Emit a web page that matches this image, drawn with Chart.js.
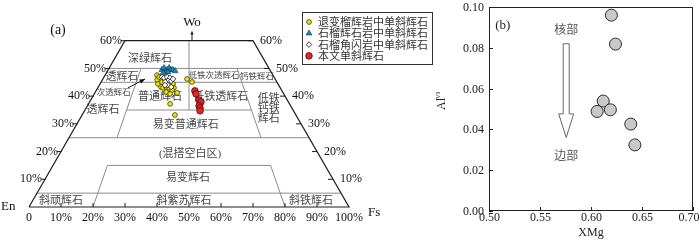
<!DOCTYPE html>
<html>
<head>
<meta charset="utf-8">
<script src="https://cdn.jsdelivr.net/npm/chart.js@4.4.1/dist/chart.umd.min.js"></script>
<style>
  body { margin: 0; background: #fff; width: 700px; height: 248px; position: relative; overflow: hidden; }
  #quadChart { position: absolute; left: 0; top: 0; }
  #xmgChart { position: absolute; left: 430px; top: 0; }
</style>
</head>
<body>
<canvas id="quadChart" width="440" height="248"></canvas>
<canvas id="xmgChart" width="270" height="248"></canvas>
<script>
// (a) pyroxene points, each [Fs, Wo] in % (En = 100 - Fs - Wo)
var retroEclogite = [[16.2,47.6],[17.1,45.9],[18.1,44.4],[19.6,43.3],[19.0,45.1],[19.4,46.2],[20.7,44.8],
    [21.2,45.1],[22.2,44.4],[20.4,43.0],[21.2,43.3],[22.3,43.0],[22.8,44.4],[23.8,43.0],[23.6,42.2],
    [22.1,41.5],[23.7,40.8],[25.7,41.2],[25.5,37.2],[29.0,33.2],[26.3,46.2],[28.4,45.1],[17.2,46.9]];
var garnetPyroxenite = [[16.8,49.5],[17.1,50.2],[18.4,49.5],[18.7,50.2],[19.6,49.5],[20.2,49.5],
    [21.1,49.1],[18.5,48.7],[19.1,48.7],[17.7,48.4]];
var garnetAmphibolite = [[18.1,46.9],[18.9,46.6],[19.7,46.9],[20.8,46.6],[20.7,45.5],[20.0,45.1],
    [21.7,45.5],[21.4,44.0],[22.8,43.3],[21.9,46.2],[20.5,44.0]];
var thisStudy = [[30.9,41.9],[31.8,40.8],[33.8,38.6],[34.8,37.9],[34.9,36.5],[35.6,35.7],[36.1,34.7]];

var seriesNames = ["退变榴辉岩中单斜辉石", "石榴辉石岩中单斜辉石", "石榴角闪岩中单斜辉石", "本文单斜辉石"];

// quadrilateral outline and field boundaries, [Fs, Wo]
var frameLine = [[0,0],[100,0],[40,60],[0,60],[0,0]];
var fieldLines = [
    [[0,5],[95,5]],
    [[20,0],[17,15],[68,15],[80,0]],
    [[0,25],[75,25]],
    [[13,35],[52,35]],
    [[0,45],[55,45]],
    [[0,50],[50,50]],
    [[15,25],[10,50]],
    [[60,25],[40,50]],
    [[32.5,35],[20,60]]
];
var fieldNames = ["深绿辉石","透辉石","次透辉石","透辉石","普通辉石","低铁次透辉石","钙铁辉石",
    "低铁透辉石","易变普通辉石","(混搭空白区)","易变辉石","斜顽辉石","斜紫苏辉石","斜铁辉石"];
var fieldAt = [[11.1,53.4],[5.6,46.9],[5.9,41.2],[5.6,35],[21.1,39.7],[34.2,47.3],[47.8,46.9],
    [40.1,39.7],[34.2,29.6],[40.8,19.1],[44.4,10.5],[8.9,2.2],[47.3,2.2],[87,2.2]];
var smallNames = ["次透辉石","低铁次透辉石","钙铁辉石"];
var stackedName = ["低铁","钙铁","辉石"];
var stackedAt = [57.1,35.7];
var woTicks = [10,20,30,40,50,60];
var fsTicks = [0,10,20,30,40,50,60,70,80,90,100];
var arrowFrom = [9.4,43.0];
var arrowTo = [13.2,46.2];

// (b) XMg vs Al(VI)
var xmg = [0.620, 0.624, 0.612, 0.606, 0.619, 0.639, 0.643];
var alVI = [0.096, 0.0818, 0.0539, 0.0488, 0.0496, 0.0426, 0.0324];
var xmgTicks = [0.50, 0.55, 0.60, 0.65, 0.70];
var alTicks = [0, 0.02, 0.04, 0.06, 0.08, 0.10];

var serif = '"Liberation Serif", "Noto Sans CJK SC"';
var cjk = '"Noto Sans CJK SC"';

function tern(p) {
    return { x: p[0] + p[1] / 2, y: p[1] * Math.sqrt(3) / 2 };
}

function arrowHead(ctx, x1, y1, x2, y2, size) {
    var a = Math.atan2(y2 - y1, x2 - x1);
    ctx.beginPath();
    ctx.moveTo(x2, y2);
    ctx.lineTo(x2 - size * Math.cos(a - 0.4), y2 - size * Math.sin(a - 0.4));
    ctx.lineTo(x2 - size * Math.cos(a + 0.4), y2 - size * Math.sin(a + 0.4));
    ctx.closePath();
    ctx.fill();
}

var pointSets = [
    { label: seriesNames[0], data: retroEclogite, style: "circle", r: 2.4, bg: "#f3e300", bd: "#3a3a10", w: 0.8, order: 3 },
    { label: seriesNames[1], data: garnetPyroxenite, style: "triangle", r: 3.4, bg: "#1d86b6", bd: "#0c3550", w: 0.6, order: 1 },
    { label: seriesNames[2], data: garnetAmphibolite, style: "rectRot", r: 2.8, bg: "#ffffff", bd: "#222222", w: 0.9, order: 2 },
    { label: seriesNames[3], data: thisStudy, style: "circle", r: 3.3, bg: "#e2262a", bd: "#4a0c0c", w: 0.8, order: 0 }
];

var quadDatasets = pointSets.map(function (s) {
    return {
        label: s.label,
        data: s.data.map(tern),
        pointStyle: s.style,
        pointRadius: s.r,
        backgroundColor: s.bg,
        borderColor: s.bd,
        borderWidth: s.w,
        order: s.order,
        clip: false
    };
});
quadDatasets.push({
    label: "frame",
    data: frameLine.map(tern),
    showLine: true, pointRadius: 0, borderColor: "#1e1e1e", borderWidth: 1.2,
    order: 10, clip: false
});
fieldLines.forEach(function (ln) {
    quadDatasets.push({
        label: "field",
        data: ln.map(tern),
        showLine: true, pointRadius: 0, borderColor: "#8c8c8c", borderWidth: 1,
        order: 11, clip: false
    });
});

const quadText = {
    id: "quadText",
    beforeDatasetsDraw(chart) {
        const ctx = chart.ctx;
        const sx = chart.scales.x, sy = chart.scales.y;
        function px(p) { var q = tern(p); return { x: sx.getPixelForValue(q.x), y: sy.getPixelForValue(q.y) }; }
        ctx.save();
        ctx.fillStyle = "#474747";
        ctx.textAlign = "center";
        ctx.textBaseline = "middle";
        fieldNames.forEach(function (name, i) {
            var small = smallNames.indexOf(name) >= 0;
            ctx.font = (small ? "8.5px " : "11px ") + serif;
            var p = px(fieldAt[i]);
            ctx.fillText(name, p.x, p.y);
        });
        ctx.font = "11px " + cjk;
        var c = px(stackedAt);
        stackedName.forEach(function (t, i) {
            ctx.fillText(t, c.x, c.y + (i - 1) * 10);
        });
        ctx.restore();
    },
    afterDraw(chart) {
        const ctx = chart.ctx;
        const sx = chart.scales.x, sy = chart.scales.y;
        function px(p) { var q = tern(p); return { x: sx.getPixelForValue(q.x), y: sy.getPixelForValue(q.y) }; }
        ctx.save();
        ctx.strokeStyle = "#1e1e1e";
        ctx.fillStyle = "#111";
        ctx.lineWidth = 1;
        ctx.font = "12px " + serif;
        ctx.textBaseline = "middle";
        // bottom ticks
        ctx.textAlign = "center";
        fsTicks.forEach(function (v) {
            var p = px([v, 0]);
            if (v > 0 && v < 100) {
                ctx.beginPath(); ctx.moveTo(p.x, p.y); ctx.lineTo(p.x, p.y - 4); ctx.stroke();
            }
            ctx.fillText(v === 0 ? "0" : v + "%", p.x, p.y + 11);
        });
        // side ticks
        woTicks.forEach(function (v) {
            var l = px([0, v]);
            ctx.beginPath(); ctx.moveTo(l.x + 1, l.y); ctx.lineTo(l.x - 4, l.y); ctx.stroke();
            ctx.textAlign = "right";
            ctx.fillText(v + "%", l.x - 3, l.y);
            var r = px([100 - v, v]);
            ctx.beginPath(); ctx.moveTo(r.x, r.y); ctx.lineTo(r.x - 5, r.y); ctx.stroke();
            ctx.textAlign = "left";
            ctx.fillText(v + "%", r.x + 7, r.y);
        });
        // corner names
        ctx.font = "13px " + serif;
        var en = px([0, 0]), fs = px([100, 0]), top = px([20, 60]);
        ctx.textAlign = "left";
        ctx.fillText("En", en.x - 28, en.y);
        ctx.fillText("Fs", fs.x + 19, fs.y + 6);
        ctx.textAlign = "center";
        ctx.fillText("Wo", top.x + 3, top.y - 18);
        ctx.font = "14px " + serif;
        ctx.fillText("(a)", 58, 30);
        // Wo arrow
        ctx.beginPath(); ctx.moveTo(top.x + 3, top.y); ctx.lineTo(top.x + 3, top.y - 8); ctx.stroke();
        arrowHead(ctx, top.x + 3, top.y, top.x + 3, top.y - 10, 4);
        // inner arrow
        var a1 = px(arrowFrom), a2 = px(arrowTo);
        ctx.beginPath(); ctx.moveTo(a1.x, a1.y); ctx.lineTo(a2.x, a2.y); ctx.stroke();
        arrowHead(ctx, a1.x, a1.y, a2.x, a2.y, 6);
        // legend box
        ctx.strokeStyle = "#333";
        ctx.strokeRect(302.5, 12.5, 130, 52);
        ctx.font = "11px " + cjk;
        ctx.textAlign = "left";
        ctx.fillStyle = "#333";
        pointSets.forEach(function (s, i) {
            var y = 22 + i * 11.3;
            ctx.save();
            ctx.fillStyle = s.bg;
            ctx.strokeStyle = s.bd;
            ctx.lineWidth = s.w;
            Chart.helpers.drawPoint(ctx, { pointStyle: s.style, radius: s.r, borderWidth: s.w, rotation: 0 }, 309, y);
            ctx.restore();
            ctx.fillText(s.label, 318, y);
        });
        ctx.restore();
    }
};

new Chart(document.getElementById("quadChart"), {
    type: "scatter",
    data: { datasets: quadDatasets },
    options: {
        responsive: false,
        animation: false,
        layout: { padding: { left: 29, right: 91, top: 15, bottom: 41 } },
        plugins: { legend: { display: false }, tooltip: { enabled: false } },
        scales: {
            x: { type: "linear", min: 0, max: 100, display: false },
            y: { type: "linear", min: 0, max: 60, display: false }
        }
    },
    plugins: [quadText]
});

const xmgDeco = {
    id: "xmgDeco",
    afterDraw(chart) {
        const ctx = chart.ctx;
        const a = chart.chartArea;
        const sx = chart.scales.x, sy = chart.scales.y;
        ctx.save();
        ctx.strokeStyle = "#222";
        ctx.lineWidth = 1;
        ctx.strokeRect(a.left + 0.5, a.top + 0.5, a.right - a.left - 1, a.bottom - a.top - 1);
        ctx.fillStyle = "#222";
        ctx.font = "12px " + serif;
        ctx.textBaseline = "middle";
        ctx.textAlign = "center";
        xmgTicks.forEach(function (v) {
            var x = Math.round(sx.getPixelForValue(v)) + 0.5;
            ctx.beginPath(); ctx.moveTo(x, a.bottom); ctx.lineTo(x, a.bottom - 4); ctx.stroke();
            var tx = Math.min(x, chart.width - 11);
            ctx.fillText(v.toFixed(2), tx, a.bottom + 7);
        });
        ctx.textAlign = "right";
        alTicks.forEach(function (v) {
            var y = Math.round(sy.getPixelForValue(v)) + 0.5;
            ctx.beginPath(); ctx.moveTo(a.left, y); ctx.lineTo(a.left + 4, y); ctx.stroke();
            ctx.fillText(v.toFixed(2), a.left - 5, y);
        });
        ctx.textAlign = "center";
        ctx.fillText("XMg", (a.left + a.right) / 2, 233);
        ctx.save();
        ctx.translate(12, 104);
        ctx.rotate(-Math.PI / 2);
        ctx.textAlign = "left";
        ctx.fillText("Al", -6, 0);
        ctx.font = "7px " + serif;
        ctx.fillText("VI", 5, -4);
        ctx.restore();
        ctx.font = "13px " + serif;
        ctx.fillText("(b)", sx.getPixelForValue(0.5136), sy.getPixelForValue(0.0908));
        ctx.fillStyle = "#555";
        ctx.font = "12px " + cjk;
        var cx = sx.getPixelForValue(0.5757);
        ctx.fillText("核部", cx, sy.getPixelForValue(0.0888));
        ctx.fillText("边部", cx, sy.getPixelForValue(0.0272));
        // hollow arrow
        var y0 = sy.getPixelForValue(0.082), y1 = sy.getPixelForValue(0.0476), y2 = sy.getPixelForValue(0.036);
        ctx.beginPath();
        ctx.moveTo(cx - 3, y0); ctx.lineTo(cx + 3, y0); ctx.lineTo(cx + 3, y1);
        ctx.lineTo(cx + 7.5, y1); ctx.lineTo(cx, y2); ctx.lineTo(cx - 7.5, y1);
        ctx.lineTo(cx - 3, y1); ctx.closePath();
        ctx.fillStyle = "#fff";
        ctx.fill();
        ctx.strokeStyle = "#666";
        ctx.stroke();
        ctx.restore();
    }
};

new Chart(document.getElementById("xmgChart"), {
    type: "scatter",
    data: {
        datasets: [{
            data: xmg.map(function (v, i) { return { x: v, y: alVI[i] }; }),
            pointRadius: 6,
            backgroundColor: "#c9c9c9",
            borderColor: "#2a2a2a",
            borderWidth: 1,
            clip: false
        }]
    },
    options: {
        responsive: false,
        animation: false,
        layout: { padding: { top: 5, right: 5, left: 59, bottom: 37 } },
        plugins: { legend: { display: false }, tooltip: { enabled: false } },
        scales: {
            x: { type: "linear", min: 0.5, max: 0.7, display: false },
            y: { type: "linear", min: 0, max: 0.1, display: false }
        }
    },
    plugins: [xmgDeco]
});
</script>
</body>
</html>
